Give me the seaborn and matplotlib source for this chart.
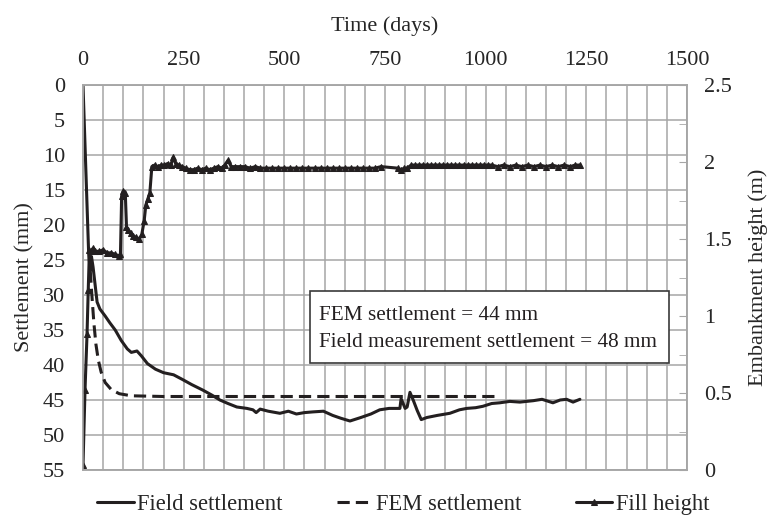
import matplotlib
matplotlib.use("Agg")
import matplotlib.pyplot as plt
import seaborn as sns
import pandas as pd
from matplotlib.patches import Rectangle
from matplotlib.ticker import MultipleLocator

# ── data ─────────────────────────────────────────────────────────────────────
field_days = [0, 14, 18, 21, 25, 30, 35, 42, 55, 67, 80, 95, 110, 120, 134, 145,
              160, 180, 200, 225, 248, 270, 298, 320, 340, 360, 382, 407, 422, 430,
              440, 460, 489, 510, 530, 550, 571, 597, 620, 640, 663, 690, 715, 737,
              760, 787, 790, 800, 805, 812, 820, 830, 840, 854, 880, 911, 935, 953,
              975, 993, 1015, 1035, 1060, 1085, 1118, 1140, 1167, 1185, 1201, 1217, 1234]
field_mm = [0, 24.0, 26.5, 24.5, 26.0, 28.5, 31.0, 32.0, 33.0, 34.0, 35.0, 36.5, 37.7,
            38.2, 38.0, 38.7, 39.8, 40.6, 41.1, 41.4, 42.1, 42.8, 43.6, 44.3, 45.0,
            45.5, 46.0, 46.2, 46.4, 46.8, 46.3, 46.6, 46.9, 46.6, 47.0, 46.8, 46.7,
            46.6, 47.2, 47.6, 48.0, 47.5, 47.0, 46.4, 46.2, 46.2, 44.8, 46.2, 46.0,
            43.9, 45.0, 46.5, 47.8, 47.5, 47.2, 46.9, 46.4, 46.2, 46.1, 45.9, 45.5,
            45.4, 45.2, 45.3, 45.1, 44.9, 45.4, 45.0, 44.9, 45.3, 44.9]

fem_days = [18, 22, 27, 32, 38, 45, 55, 70, 90, 120, 200, 1025]
fem_mm = [26.5, 30.0, 34.0, 37.0, 39.3, 41.0, 42.5, 43.5, 44.1, 44.4, 44.5, 44.5]

fill_days = [0, 5, 10, 13, 16, 20, 25, 30, 40, 50, 60, 70, 80, 90, 93, 96, 100, 105,
             108, 112, 118, 125, 132, 140, 146, 152, 156, 161, 166, 171, 178, 186,
             194, 202, 210, 218, 224, 230, 238, 246, 255, 265, 275, 285, 295, 305,
             315, 325, 335, 345, 352, 360, 368, 378, 390, 402, 415, 428, 440, 455,
             470, 485, 500, 515, 530, 545, 560, 575, 590, 605, 620, 635, 650, 665,
             680, 695, 710, 725, 740, 782, 790, 798, 805, 815, 825, 835, 845, 855,
             865, 875, 885, 895, 905, 915, 925, 935, 945, 955, 965, 975, 985, 995,
             1005, 1015, 1030, 1045, 1060, 1075, 1090, 1105, 1120, 1135, 1150, 1165,
             1180, 1195, 1210, 1222, 1234]
fill_m = [0.03, 0.52, 0.88, 1.17, 1.43, 1.42, 1.44, 1.42, 1.42, 1.43, 1.41, 1.41,
          1.40, 1.39, 1.40, 1.78, 1.81, 1.80, 1.58, 1.56, 1.54, 1.52, 1.51, 1.50,
          1.53, 1.62, 1.72, 1.76, 1.80, 1.97, 1.98, 1.97, 1.98, 1.98, 1.99, 1.98,
          2.03, 1.99, 1.98, 1.97, 1.96, 1.95, 1.95, 1.96, 1.95, 1.96, 1.95, 1.96,
          1.97, 1.96, 1.98, 2.01, 1.97, 1.97, 1.97, 1.97, 1.96, 1.97, 1.96, 1.96,
          1.96, 1.96, 1.96, 1.96, 1.96, 1.96, 1.96, 1.96, 1.96, 1.96, 1.96, 1.96,
          1.96, 1.96, 1.96, 1.96, 1.96, 1.96, 1.97, 1.96, 1.95, 1.96, 1.96, 1.98,
          1.98, 1.98, 1.98, 1.98, 1.98, 1.98, 1.98, 1.98, 1.98, 1.98, 1.98, 1.98,
          1.98, 1.98, 1.98, 1.98, 1.98, 1.98, 1.98, 1.98, 1.97, 1.98, 1.97, 1.98,
          1.97, 1.98, 1.97, 1.98, 1.97, 1.98, 1.97, 1.98, 1.97, 1.98, 1.98]

x_ticks = [0, 250, 500, 750, 1000, 1250, 1500]
settle_ticks = list(range(0, 60, 5))
height_ticks = [0, 0.5, 1, 1.5, 2, 2.5]
height_tick_labels = ["0", "0.5", "1", "1.5", "2", "2.5"]

field_df = pd.DataFrame({"day": field_days, "mm": field_mm})
fem_df = pd.DataFrame({"day": fem_days, "mm": fem_mm})
fill_df = pd.DataFrame({"day": fill_days, "m": fill_m})

INK = "#231f20"
GRID = "#a6a6a6"
FS = 16

sns.set_style("white")
plt.rcParams["font.family"] = ["Liberation Serif", "DejaVu Serif"]

fig = plt.figure(figsize=(7.71, 5.16), dpi=100)
ax = fig.add_axes([83 / 771, 1 - 470 / 516, 604 / 771, 385 / 516])
ax2 = ax.twinx()

# ── settlement (left axis, inverted) ─────────────────────────────────────────
sns.lineplot(data=field_df, x="day", y="mm", ax=ax, color=INK, lw=2.2,
             estimator=None, label="Field settlement", legend=False)
sns.lineplot(data=fem_df, x="day", y="mm", ax=ax, color=INK, lw=2.2,
             linestyle=(0, (4, 2)), estimator=None, label="FEM settlement", legend=False)

# ── fill height (right axis) ─────────────────────────────────────────────────
sns.lineplot(data=fill_df, x="day", y="m", ax=ax2, color=INK, lw=2.2,
             marker="^", markersize=5, markeredgecolor=INK, markerfacecolor=INK,
             estimator=None, label="Fill height", legend=False)

ax.set_xlim(0, 1500)
ax.set_ylim(55, 0)
ax2.set_ylim(0, 2.5)

ax.xaxis.set_minor_locator(MultipleLocator(50))
ax.set_xticks(x_ticks)
ax.set_yticks(settle_ticks)
ax.xaxis.tick_top()
ax.xaxis.set_label_position("top")
ax.set_xlabel("Time (days)", fontsize=FS, labelpad=14)
ax.set_ylabel("Settlement (mm)", fontsize=FS, labelpad=6)
ax.tick_params(axis="x", which="both", length=0, labelsize=FS, pad=11)
ax.tick_params(axis="y", which="both", length=0, labelsize=FS, pad=13)
ax.grid(True, which="both", axis="x", color=GRID, lw=1.1)
ax.grid(True, which="major", axis="y", color=GRID, lw=1.1)
ax.set_axisbelow(True)

ax2.set_yticks(height_ticks)
ax2.set_yticklabels(height_tick_labels)
ax2.yaxis.set_minor_locator(MultipleLocator(0.25))
ax2.tick_params(axis="y", which="both", direction="in", length=6, color=GRID,
                labelsize=FS, pad=12)
ax2.set_ylabel("Embankment height (m)", fontsize=FS, labelpad=12)
ax2.grid(False)

for a in (ax, ax2):
    for sp in a.spines.values():
        sp.set_color(GRID)
        sp.set_linewidth(1.1)

# ── annotation box ───────────────────────────────────────────────────────────
ax2.add_patch(Rectangle((0.376, 0.278), 0.594, 0.187, transform=ax2.transAxes,
                        facecolor="white", edgecolor="#3a3a3a", lw=1.2, zorder=5))
ax2.text(0.391, 0.40, "FEM settlement = 44 mm", transform=ax2.transAxes,
         fontsize=15.3, va="center", ha="left", color=INK, zorder=6)
ax2.text(0.391, 0.33, "Field measurement settlement = 48 mm", transform=ax2.transAxes,
         fontsize=15.3, va="center", ha="left", color=INK, zorder=6)

# ── legend below the plot ────────────────────────────────────────────────────
h1, l1 = ax.get_legend_handles_labels()
h2, l2 = ax2.get_legend_handles_labels()
fig.legend(h1 + h2, l1 + l2, loc="center", bbox_to_anchor=(0.523, 0.022), ncol=3,
           frameon=False, fontsize=16.3, handlelength=1.6, handletextpad=0.15,
           columnspacing=2.4, borderaxespad=0)

fig.savefig("out.png", dpi=100)
